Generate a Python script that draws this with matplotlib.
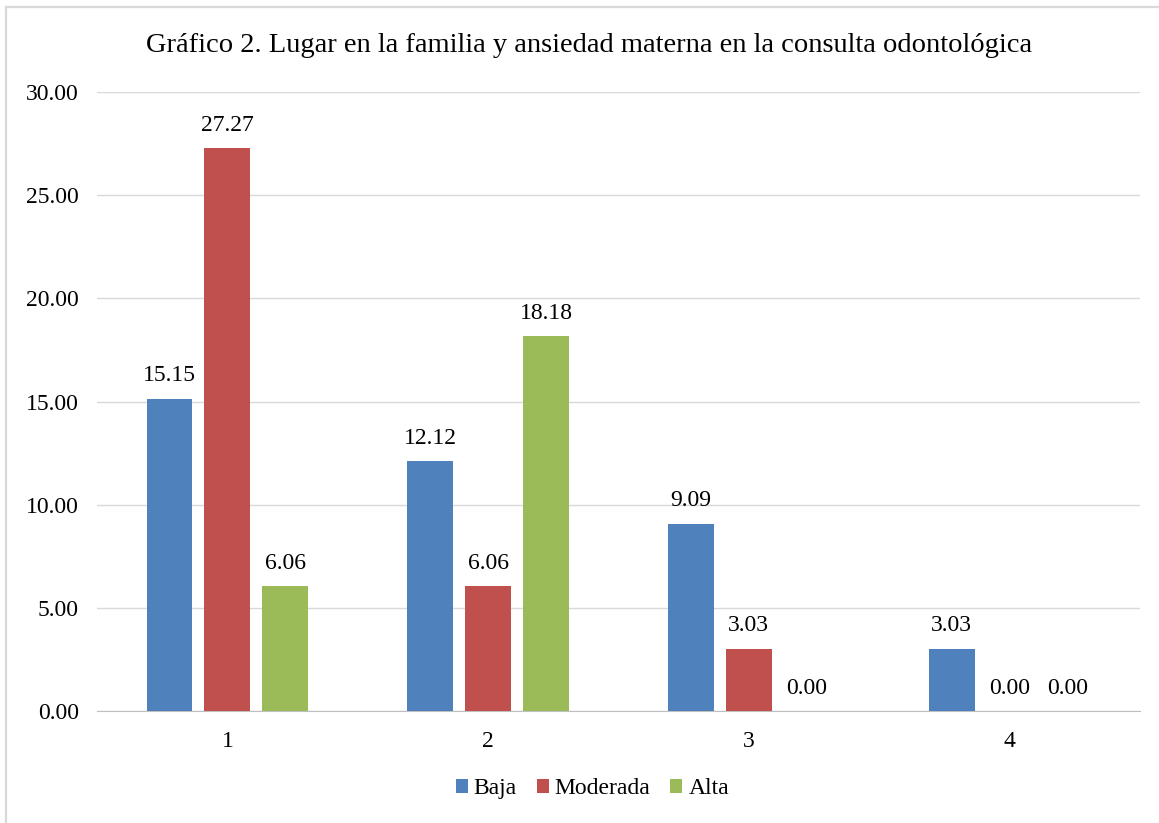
import numpy as np
import matplotlib.pyplot as plt
from matplotlib.lines import Line2D

# ===== DATA =====
categories = ["1", "2", "3", "4"]
baja = [15.15, 12.12, 9.09, 3.03]
moderada = [27.27, 6.06, 3.03, 0.00]
alta = [6.06, 18.18, 0.00, 0.00]
series_names = ["Baja", "Moderada", "Alta"]
title = "Gráfico 2. Lugar en la familia y ansiedad materna en la consulta odontológica"

# ===== STYLE =====
COLORS = ["#4F81BD", "#C0504D", "#9BBB59"]
BAR_W = 0.176
OFFSET = 0.222
FS = 17

plt.rcParams["font.family"] = ["Liberation Serif", "DejaVu Serif"]

fig = plt.figure(figsize=(11.59, 8.23), dpi=100)
ax = fig.add_axes([0.0837, 0.136, 0.8999, 0.752])

x = np.arange(len(categories))
for i, (vals, name, col) in enumerate(zip([baja, moderada, alta], series_names, COLORS)):
    pos = x + (i - 1) * OFFSET
    ax.bar(pos, vals, width=BAR_W, color=col, label=name, zorder=3)
    for px, v in zip(pos, vals):
        ax.text(px, v + 0.6, f"{v:.2f}", ha="center", va="bottom", fontsize=FS)

ax.set_xlim(-0.5, len(categories) - 0.5)
ax.set_ylim(0, 30)
yt = np.arange(0, 31, 5)
ax.set_yticks(yt)
ax.set_yticklabels([f"{t:.2f}" for t in yt])
ax.set_xticks(x)
ax.set_xticklabels(categories)
ax.tick_params(axis="both", length=0, labelsize=FS)
ax.tick_params(axis="y", pad=13)
ax.tick_params(axis="x", pad=14)
ax.yaxis.grid(True, color="#D9D9D9", linewidth=1, zorder=0)
ax.set_axisbelow(True)
for s in ("left", "right", "top"):
    ax.spines[s].set_visible(False)
ax.spines["bottom"].set_color("#BFBFBF")

fig.text(0.508, 0.945, title, ha="center", va="center", fontsize=20.5)

fig.legend(loc="center", bbox_to_anchor=(0.511, 0.0415), ncol=3, frameon=False,
           fontsize=FS, handlelength=0.51, handleheight=0.51, handletextpad=0.25,
           columnspacing=0.85)

# partial outer frame (left and top edges visible in the source image)
fig.lines.append(Line2D([0.0056, 0.0056], [0.0, 0.9909], transform=fig.transFigure,
                        color="#D9D9D9", linewidth=1.6))
fig.lines.append(Line2D([0.0056, 1.0], [0.9909, 0.9909], transform=fig.transFigure,
                        color="#D9D9D9", linewidth=1.6))

fig.savefig("out.png", dpi=100)
